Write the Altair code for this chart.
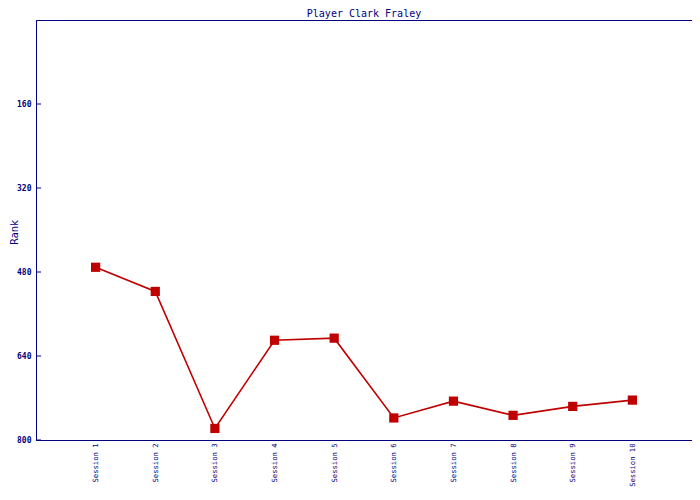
import altair as alt
import pandas as pd

sessions = ["Session 1", "Session 2", "Session 3", "Session 4", "Session 5",
            "Session 6", "Session 7", "Session 8", "Session 9", "Session 10"]
ranks = [471, 517, 778, 610, 606, 758, 726, 753, 736, 724]
y_ticks = [160, 320, 480, 640, 800]

NAVY = "#000080"
RED = "#C00000"
MONO = "DejaVu Sans Mono"

df = pd.DataFrame({"session": sessions, "rank": ranks})
ticks_df = pd.DataFrame({"t": y_ticks})

x_enc = alt.X("session:N", sort=sessions, title=None,
              scale=alt.Scale(type="point", padding=1),
              axis=alt.Axis(labelAngle=270, labelAlign="right", labelBaseline="middle",
                            labelFont=MONO, labelFontSize=7.2, labelColor=NAVY,
                            ticks=False, tickSize=0, labelPadding=3,
                            domainColor=NAVY, grid=False))
y_scale = alt.Scale(domain=[0, 800], reverse=True, nice=False)
y_enc = alt.Y("rank:Q", title="Rank", scale=y_scale,
              axis=alt.Axis(values=y_ticks, ticks=False, tickSize=0, labelPadding=5,
                            labelFont=MONO, labelFontSize=8, labelColor=NAVY,
                            labelFontWeight="bold",
                            titleFont="DejaVu Sans", titleFontSize=10, titleColor=NAVY,
                            titleFontWeight="normal",
                            titleX=-17, titleY=212, titleAngle=270,
                            titleAlign="center", titleBaseline="bottom",
                            domainColor=NAVY, grid=False))

line = alt.Chart(df).mark_line(color=RED, strokeWidth=1.6).encode(x=x_enc, y=y_enc)
pts = alt.Chart(df).mark_square(color=RED, size=85, opacity=1).encode(x=x_enc, y=y_enc)

tick_marks = alt.Chart(ticks_df).mark_rule(color=NAVY, strokeWidth=1).encode(
    y=alt.Y("t:Q", scale=y_scale),
    x=alt.value(0), x2=alt.value(5))

chart = alt.layer(line, pts, tick_marks).properties(
    width=656, height=420,
    background="white",
    title=alt.TitleParams("Player Clark Fraley", font=MONO, fontSize=10,
                          color=NAVY, fontWeight="normal", anchor="middle",
                          baseline="top", offset=1),
    autosize=alt.AutoSizeParams(type="none"),
    padding={"left": 28, "top": 12, "right": 0, "bottom": 48},
).configure_view(stroke=NAVY, strokeWidth=1)

chart.save("out.html", embed_options={"renderer": "svg", "actions": False})
